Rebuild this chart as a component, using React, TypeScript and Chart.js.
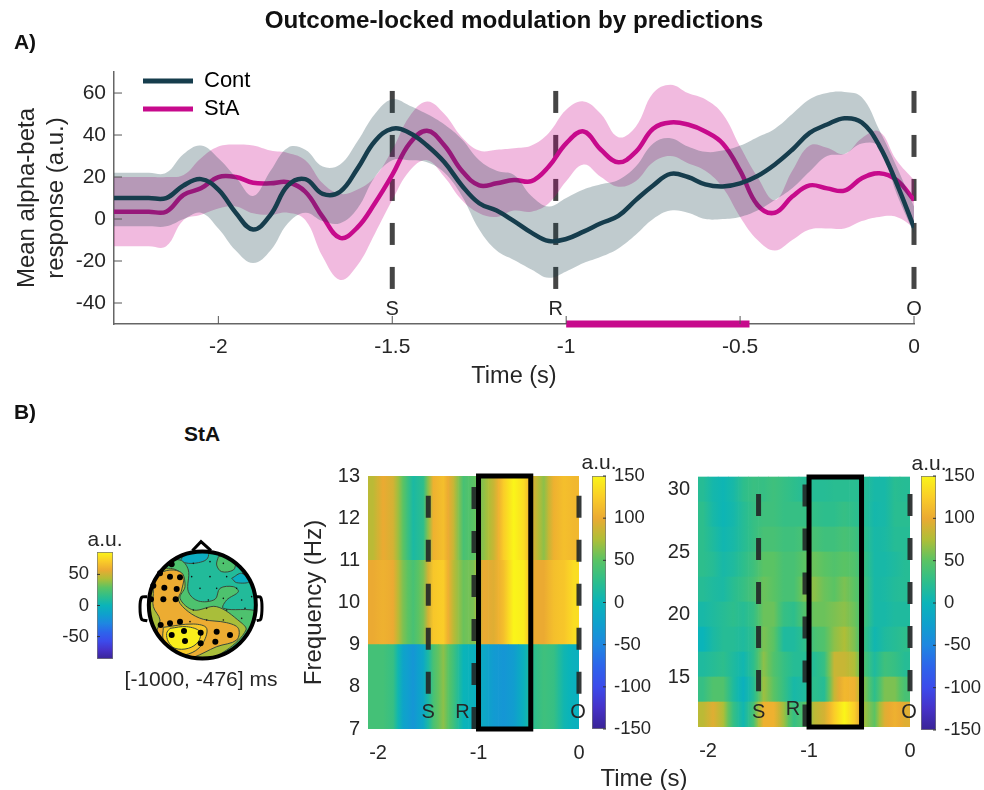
import React, { useEffect, useRef } from "react";
import { Chart, registerables } from "chart.js";

// ---------- Panel A data ----------
const timeA = [-2.3,-2.25,-2.2,-2.15,-2.1,-2.05,-2,-1.95,-1.9,-1.85,-1.8,-1.75,-1.7,-1.65,-1.6,-1.55,-1.5,-1.45,-1.4,-1.35,-1.3,-1.25,-1.2,-1.15,-1.1,-1.05,-1,-0.95,-0.9,-0.85,-0.8,-0.75,-0.7,-0.65,-0.6,-0.55,-0.5,-0.45,-0.4,-0.35,-0.3,-0.25,-0.2,-0.15,-0.1,-0.05,0];
const contMean = [10,10,10,10,16,19,14,3,-5,2,16,19,12,13,24,37,43,41,35,27,16,7.5,4,-1,-6.5,-10.5,-9.5,-6,-2,1.5,9,16,21.5,20,16.5,15.5,17,20.5,26,33,41,45,48,46,35,17,-4];
const contUpper = [22,22,22,22,31,35,29,20,11,23,34,33,25,26,37,50,57,54,50,45,38,28,23,21,11,6,10,14,16.5,18.6,25,36,38.5,34.5,32,32.6,35,39,43,50,57,60,60.5,58,42.5,25,6];
const contLower = [-3.5,-3.5,-3.5,-3.5,0,3,-4.5,-15,-21,-15,-2,3,-1,-2,5,20,28,28,27,22,11,-5,-15,-19.5,-24,-28,-25,-21,-18,-14,-7.5,0,4,3,0,0,1,4,9,14.6,22.6,30,31,36,34.5,12,-7];
const staMean = [3.5,3.5,3.5,3.5,11.5,14.6,20,20,17.3,17,17.5,13,1,-9,-4,7.5,21,36,42,35,23,16,17,18.6,18,25,36,41.7,33,27,32,43,46,45,41.7,36,23,6.7,3,10.7,16,14.6,13.5,19.4,21.8,18.6,9];
const staUpper = [20,20,20,20,21,29,34.5,35.5,35,32.6,31.5,28,17,12,14,20,33,49,56,50,39,32.6,33,33.7,35,41,52,56,50,39,44,60,64,60,57,50,34.5,20,9,23,35,34,31,38.5,41.7,28,18.6];
const staLower = [-13,-13,-13,-13,-0.5,2,5,6,2.7,2,3,-0.5,-18,-29,-22,-7,9,23,28,20,9,2.7,1,4,3.5,7.5,18,26,20,15.4,18,27,30,26.6,23,15,1,-10,-15,-10,-5,-4.5,-4.5,-1,1,1,-4];
const xTicksA = [-2,-1.5,-1,-0.5,0];
const yTicksA = [-40,-20,0,20,40,60];
const eventNames = ["S","R","O"];
const eventTimesA = [-1.5,-1.03,0];
const eventSpanA = [61,-34];
const significantSpan = [-1,-0.473];

// ---------- Panel B data ----------
const heatTimes = [-2.05,-1.95,-1.85,-1.75,-1.65,-1.55,-1.45,-1.35,-1.25,-1.15,-1.05,-0.95,-0.85,-0.75,-0.65,-0.55,-0.45,-0.35,-0.25,-0.15,-0.05];
const lowFreqEdges = [7,9,11,13];
const low7to9 =   [38,38,30,-20,-35,-15,40,65,35,0,-5,-15,-30,-35,-28,-5,25,35,30,5,-5];
const low9to11 =  [100,105,100,60,40,60,120,125,80,55,60,100,95,115,150,145,100,100,115,120,135];
const low11to13 = [80,100,90,50,12,25,105,115,85,40,50,65,85,125,150,135,90,65,105,115,110];
const highFreqEdges = [11,13,15,17,19,21,23,25,27,29,31];
const high11 = [80,95,75,30,5,40,105,105,70,30,45,80,90,125,150,125,70,50,95,105,95];
const high13 = [30,45,45,15,-5,20,70,50,30,10,15,25,20,85,110,105,60,25,60,60,40];
const high15 = [15,20,25,15,5,25,65,45,30,20,20,20,30,85,85,75,40,15,35,30,20];
const high17 = [0,12,20,20,15,25,60,50,15,15,25,40,45,65,75,60,30,5,15,20,25];
const high19 = [10,15,20,25,20,30,55,55,30,25,45,55,55,60,65,55,35,10,10,15,15];
const high21 = [20,15,12,22,30,40,55,50,40,40,60,65,55,50,60,50,35,10,12,18,20];
const high23 = [25,20,10,15,25,35,50,50,40,40,50,55,50,45,50,45,30,10,10,15,20];
const high25 = [25,15,5,10,20,30,40,40,35,35,40,40,35,35,40,35,25,10,12,20,20];
const high27 = [25,10,2,8,20,30,35,35,30,30,30,28,25,25,30,25,20,8,10,22,22];
const high29 = [20,8,3,10,25,32,30,35,30,25,20,20,20,22,22,22,20,10,10,22,20];
const heatXTicks = [-2,-1,0];
const lowYTicks = [7,8,9,10,11,12,13];
const highYTicks = [15,20,25,30];
const cbTicks = [-150,-100,-50,0,50,100,150];
const topoCbTicks = [-50,0,50];
const windowSpan = [-1,-0.48];

// Scalp map, in the map's own layout units (head centre 427, 255; radius 165)
const headCentre = [{ x: 427, y: 255 }];
const topoBackground = 10;
const topoLevels = [-6, 25, -4, 25, 42, 58, 70, 84];
const topoContours = [
  [[360,125],[375,102],[420,90],[445,100],[440,118],[415,128],[385,130]],
  [[475,110],[500,105],[525,130],[520,150],[485,155],[470,135]],
  [[515,175],[545,160],[568,185],[530,188]],
  [[300,130],[360,120],[385,150],[385,215],[415,243],[465,238],[480,205],[520,200],[535,215],[500,240],[490,265],[595,275],[610,320],[560,420],[420,450],[290,430],[235,330],[245,200]],
  [[265,170],[320,145],[365,160],[375,200],[360,235],[400,270],[470,260],[540,305],[558,330],[500,390],[420,425],[340,425],[280,375],[250,300]],
  [[280,190],[300,160],[340,150],[370,165],[365,210],[355,240],[385,275],[430,298],[500,308],[535,325],[530,360],[470,380],[400,412],[350,420],[310,400],[290,340],[300,300],[280,260],[280,220]],
  [[310,322],[400,312],[440,325],[425,375],[385,402],[340,400],[310,360]],
  [[330,325],[380,320],[420,335],[415,365],[385,385],[345,385],[325,365],[320,340]],
];
const sigSensors = [[335,133],[300,160],[330,170],[360,172],[280,197],[313,203],[350,207],[273,238],[310,238],[347,238],[302,315],[330,310],[360,305],[372,333],[335,345],[375,363],[422,338],[422,370],[470,335],[510,345],[466,365]];
const otherSensors = [[395,170],[450,170],[500,170],[550,160],[420,205],[470,205],[530,205],[445,240],[490,235],[545,240],[575,230],[400,270],[440,265],[500,270],[555,265],[390,305],[440,300],[490,300],[545,295],[400,130],[450,125],[490,130]];
const noseLine = [[397,92],[423,65],[453,92]];
const leftEar = [[262,230],[245,232],[240,262],[245,298],[262,302]];
const rightEar = [[590,230],[602,232],[606,262],[602,298],[590,302]];

// ---------- helpers ----------
const colourStops: [number, number[]][] = [
  [-150,[58,36,150]],[-125,[70,50,200]],[-100,[60,75,235]],[-75,[45,100,235]],[-50,[30,135,225]],[-25,[15,160,205]],
  [0,[10,180,185]],[25,[45,190,140]],[50,[90,195,100]],[75,[175,190,55]],[100,[235,170,50]],[125,[250,205,40]],[150,[250,245,25]],
];
function colourAt(v: number) {
  const c = Math.max(-150, Math.min(150, v));
  for (let i = 0; i < colourStops.length - 1; i++) {
    const [a, ca] = colourStops[i];
    const [b, cb] = colourStops[i + 1];
    if (c <= b) {
      const t = (c - a) / (b - a);
      return `rgb(${ca.map((q, k) => Math.round(q + (cb[k] - q) * t)).join(",")})`;
    }
  }
  return "rgb(250,245,25)";
}
const FONT = "'Liberation Sans', Arial, sans-serif";
const INK = "#262626";
const toPts = (arr: number[][]) => arr.map(([x, y]) => ({ x, y }));
const fixedTicks = (vals: number[]) => (s: any) => { s.ticks = vals.map((value) => ({ value })); };
const plainLabel = (v: any) => String(v);
const noMargins = (s: any) => { s.paddingLeft = 0; s.paddingRight = 0; s.paddingTop = 0; s.paddingBottom = 0; };

const headClip = {
  id: "headClip",
  beforeDatasetDraw(chart: any, args: any) {
    if (!chart.data.datasets[args.index].headClip) return;
    const c = chart.ctx;
    const cx = chart.scales.x.getPixelForValue(headCentre[0].x);
    const cy = chart.scales.y.getPixelForValue(headCentre[0].y);
    c.save();
    c.beginPath();
    c.arc(cx, cy, 54, 0, Math.PI * 2);
    c.clip();
  },
  afterDatasetDraw(chart: any, args: any) {
    if (chart.data.datasets[args.index].headClip) chart.ctx.restore();
  },
};
Chart.register(headClip, ...registerables);
Chart.defaults.font.family = FONT;

const innerTicks = {
  id: "innerTicks",
  afterDraw(chart: any, _a: any, opts: any) {
    const c = chart.ctx;
    c.save();
    c.strokeStyle = opts.color || "#555";
    c.lineWidth = 1;
    for (const s of Object.values(chart.scales) as any[]) {
      if (!s.options.display) continue;
      for (const t of s.ticks) {
        const p = s.getPixelForValue(t.value);
        c.beginPath();
        if (s.isHorizontal()) {
          c.moveTo(p, s.top);
          c.lineTo(p, s.top - opts.len);
        } else if (s.position === "left") {
          c.moveTo(s.right, p);
          c.lineTo(s.right + opts.len, p);
        } else {
          c.moveTo(s.left, p);
          c.lineTo(s.left - opts.len, p);
        }
        c.stroke();
      }
    }
    c.restore();
  },
};

const eventText = {
  id: "eventText",
  afterDraw(chart: any, _a: any, opts: any) {
    const c = chart.ctx;
    c.save();
    c.fillStyle = opts.color || INK;
    c.font = `${opts.size}px ${FONT}`;
    c.textAlign = "center";
    c.textBaseline = "middle";
    opts.names.forEach((n: string, i: number) => {
      c.fillText(n, chart.scales.x.getPixelForValue(opts.xs[i]), chart.scales.y.getPixelForValue(opts.ys[i]));
    });
    c.restore();
  },
};

const placeLegend = {
  id: "placeLegend",
  afterLayout(chart: any) {
    chart.legend.left = 137;
    chart.legend.top = 64;
  },
};

function band(upper: number[], lower: number[], rgba: string, order: number) {
  return [
    { data: timeA.map((x, i) => ({ x, y: upper[i] })), fill: "+1", backgroundColor: rgba, borderWidth: 0, pointRadius: 0, tension: 0.4, order },
    { data: timeA.map((x, i) => ({ x, y: lower[i] })), fill: false, borderWidth: 0, pointRadius: 0, tension: 0.4, order },
  ];
}

function chartA(canvas: HTMLCanvasElement) {
  const dashes = eventTimesA.map((x) => ({
    data: [{ x, y: eventSpanA[0] }, { x, y: eventSpanA[1] }],
    borderColor: "#454545", borderWidth: 5, borderDash: [22, 22], pointRadius: 0, clip: false, order: 10,
  }));
  return new Chart(canvas, {
    type: "line",
    data: {
      datasets: [
        ...dashes,
        ...band(staUpper, staLower, "rgba(205,0,135,0.27)", 9),
        { label: "StA", data: timeA.map((x, i) => ({ x, y: staMean[i] })), borderColor: "#C70A8C", backgroundColor: "#C70A8C", borderWidth: 4.5, pointRadius: 0, tension: 0.4, order: 8 },
        ...band(contUpper, contLower, "rgba(22,61,74,0.27)", 7),
        { label: "Cont", data: timeA.map((x, i) => ({ x, y: contMean[i] })), borderColor: "#163D4D", backgroundColor: "#163D4D", borderWidth: 4.5, pointRadius: 0, tension: 0.4, order: 6 },
        { data: significantSpan.map((x) => ({ x, y: -50 })), borderColor: "#C70A8C", borderWidth: 7, pointRadius: 0, clip: false, order: 5 },
      ] as any,
    },
    plugins: [innerTicks, eventText, placeLegend],
    options: {
      animation: false, responsive: false,
      layout: { padding: { right: 70 }, autoPadding: false },
      plugins: {
        tooltip: { enabled: false },
        title: { display: true, text: "Outcome-locked modulation by predictions", color: "#111", fullSize: false, font: { size: 24.2, weight: "bold" }, padding: { top: 6.5, bottom: 36.5 } },
        legend: {
          position: "chartArea",
          align: "start",
          labels: {
            boxWidth: 50, boxHeight: 5, padding: 6, color: INK, font: { size: 22 },
            generateLabels: (ch: any) => ["Cont", "StA"].map((text) => {
              const ds = ch.data.datasets.find((d: any) => d.label === text);
              return { text, fillStyle: ds.borderColor, strokeStyle: ds.borderColor, lineWidth: 0, hidden: false };
            }),
          },
        },
        innerTicks: { len: 8 },
        eventText: { names: eventNames, xs: eventTimesA, ys: [-43, -43, -43], size: 20 },
      } as any,
      scales: {
        x: {
          type: "linear", min: -2.3, max: 0, afterBuildTicks: fixedTicks(xTicksA), afterFit: (s: any) => { s.height = 71; noMargins(s); },
          grid: { display: false, drawTicks: false }, border: { display: true, color: "#666", width: 1.5 },
          ticks: { callback: plainLabel, color: INK, font: { size: 21 }, padding: 11, maxRotation: 0, autoSkip: false },
          title: { display: true, text: "Time (s)", color: INK, font: { size: 23.5 }, padding: { top: 0, bottom: 4 } },
        },
        y: {
          min: -50, max: 70, afterBuildTicks: fixedTicks(yTicksA), afterFit: (s: any) => { s.width = 114; noMargins(s); },
          grid: { display: false, drawTicks: false }, border: { display: true, color: "#666", width: 1.5 },
          ticks: { callback: plainLabel, color: INK, font: { size: 21 }, padding: 8, autoSkip: false },
          title: { display: true, text: ["Mean alpha-beta", "response (a.u.)"], color: INK, font: { size: 24 }, padding: { top: 13, bottom: 0 } },
        },
      },
    } as any,
  });
}

function heatChart(canvas: HTMLCanvasElement, cfg: any) {
  const rowSets = cfg.rows.map((vals: number[], r: number) => ({
    type: "bar",
    grouped: false,
    barPercentage: 1,
    categoryPercentage: 1,
    order: 5,
    data: heatTimes.map((x) => ({ x, y: [cfg.edges[r], cfg.edges[r + 1]] })),
    backgroundColor: (ctx: any) => {
      const i = ctx.dataIndex;
      const ch = ctx.chart;
      if (i == null || !ch.chartArea) return colourAt(vals[0]);
      const xs = ch.scales.x;
      const half = (xs.getPixelForValue(heatTimes[1]) - xs.getPixelForValue(heatTimes[0])) / 2;
      const c = xs.getPixelForValue(heatTimes[i]);
      const g = ch.ctx.createLinearGradient(c - half, 0, c + half, 0);
      g.addColorStop(0, colourAt((vals[Math.max(0, i - 1)] + vals[i]) / 2));
      g.addColorStop(0.5, colourAt(vals[i]));
      g.addColorStop(1, colourAt((vals[Math.min(vals.length - 1, i + 1)] + vals[i]) / 2));
      return g;
    },
  }));
  const dashes = cfg.dashes.map((d: number[]) => ({
    type: "line", data: [{ x: d[0], y: d[1] }, { x: d[0], y: d[2] }],
    borderColor: "rgba(35,40,40,0.92)", borderWidth: 5, borderDash: [22, 22], pointRadius: 0, clip: false, order: 3,
  }));
  const [wa, wb] = windowSpan;
  const lo = cfg.edges[0];
  const hi = cfg.edges[cfg.edges.length - 1];
  const frame = {
    type: "line", data: [{ x: wa, y: lo }, { x: wb, y: lo }, { x: wb, y: hi }, { x: wa, y: hi }, { x: wa, y: lo }],
    borderColor: "#000", borderWidth: 5, pointRadius: 0, clip: false, order: 1, borderJoinStyle: "miter", borderCapStyle: "square",
  };
  return new Chart(canvas, {
    type: "bar",
    data: { datasets: [...rowSets, ...dashes, frame] as any },
    plugins: [eventText],
    options: {
      animation: false, responsive: false,
      layout: { padding: { top: 16, right: cfg.padRight }, autoPadding: false },
      plugins: {
        legend: { display: false }, tooltip: { enabled: false },
        eventText: { names: eventNames, xs: cfg.labelX, ys: cfg.labelY, size: 20 },
      } as any,
      scales: {
        x: {
          type: "linear", offset: false, min: -2.1, max: 0, afterBuildTicks: fixedTicks(heatXTicks), afterFit: (s: any) => { s.height = cfg.bottom; noMargins(s); },
          grid: { display: false, drawTicks: false }, border: { display: false },
          ticks: { callback: plainLabel, color: INK, font: { size: 20 }, padding: 12, maxRotation: 0, autoSkip: false },
        },
        y: {
          min: cfg.yMin, max: cfg.yMax, afterBuildTicks: fixedTicks(cfg.yTicks), afterFit: (s: any) => { s.width = cfg.yWidth; noMargins(s); },
          grid: { display: false, drawTicks: false }, border: { display: false },
          ticks: { callback: plainLabel, color: INK, font: { size: 20 }, padding: 8, autoSkip: false },
          title: cfg.yTitle ? { display: true, text: cfg.yTitle, color: INK, font: { size: 24 }, padding: { top: 10, bottom: 0 } } : { display: false },
        },
      },
    } as any,
  });
}

function colourBar(canvas: HTMLCanvasElement, cfg: any) {
  return new Chart(canvas, {
    type: "bar",
    data: {
      labels: ["a.u."],
      datasets: [{
        data: [[cfg.min, cfg.max]],
        barPercentage: 1, categoryPercentage: 1, borderWidth: 1, borderColor: "#777", borderSkipped: false,
        backgroundColor: (ctx: any) => {
          const ch = ctx.chart;
          if (!ch.chartArea) return colourAt(0);
          const y = ch.scales.y;
          const top = y.getPixelForValue(cfg.max);
          const bot = y.getPixelForValue(cfg.min);
          const g = ch.ctx.createLinearGradient(0, bot, 0, top);
          colourStops.forEach(([v, _c]) => g.addColorStop((v + 150) / 300, colourAt(v)));
          return g;
        },
      }] as any,
    },
    plugins: [innerTicks],
    options: {
      animation: false, responsive: false,
      layout: { padding: cfg.padding, autoPadding: false },
      plugins: { legend: { display: false }, tooltip: { enabled: false }, innerTicks: { len: 3, color: "#333" } } as any,
      scales: {
        x: { display: false },
        y: {
          position: cfg.side, min: cfg.min, max: cfg.max, afterBuildTicks: fixedTicks(cfg.ticks), afterFit: (s: any) => { s.width = cfg.axisWidth; noMargins(s); },
          grid: { display: false, drawTicks: false }, border: { display: false },
          ticks: { callback: plainLabel, color: INK, font: { size: 18.5 }, padding: cfg.tickPad, autoSkip: false },
        },
      },
    } as any,
  });
}

function topoChart(canvas: HTMLCanvasElement) {
  const area = { type: "scatter", showLine: true, pointRadius: 0 };
  const regions = topoContours.map((shape, i) => ({
    ...area, headClip: true, tension: 0.35, data: toPts([...shape, shape[0]]), fill: "shape",
    backgroundColor: colourAt((topoLevels[i] * 150) / 86), borderColor: "#3a4a3a", borderWidth: 1, order: 20 - i,
  }));
  return new Chart(canvas, {
    type: "scatter",
    data: {
      datasets: [
        { data: headCentre, pointRadius: 54, pointBackgroundColor: colourAt((topoBackground * 150) / 86), pointBorderWidth: 0, clip: false, order: 30 },
        ...regions,
        { ...area, data: toPts(noseLine), borderColor: "#000", borderWidth: 3, tension: 0, clip: false, order: 6 },
        { ...area, data: toPts(leftEar), borderColor: "#000", borderWidth: 3, tension: 0.3, clip: false, order: 6 },
        { ...area, data: toPts(rightEar), borderColor: "#000", borderWidth: 3, tension: 0.3, clip: false, order: 6 },
        { data: headCentre, pointRadius: 53.5, pointBackgroundColor: "rgba(0,0,0,0)", pointBorderColor: "#000", pointBorderWidth: 4, clip: false, order: 5 },
        { data: toPts(otherSensors), pointRadius: 0.8, pointBackgroundColor: "#111", pointBorderWidth: 0, order: 4 },
        { data: toPts(sigSensors), pointRadius: 3, pointBackgroundColor: "#000", pointBorderWidth: 0, order: 3 },
      ] as any,
    },
    options: {
      animation: false, responsive: false,
      layout: { autoPadding: false },
      plugins: { legend: { display: false }, tooltip: { enabled: false } },
      scales: {
        x: { display: false, min: 210, max: 645 },
        y: { display: false, min: 30, max: 465, reverse: true },
      },
    } as any,
  });
}

const canvasBoxes = [
  { left: 0, top: 0, width: 984, height: 395 },
  { left: 130, top: 530, width: 145, height: 145 },
  { left: 55, top: 545, width: 65, height: 125 },
  { left: 290, top: 460, width: 300, height: 330 },
  { left: 585, top: 466, width: 80, height: 275 },
  { left: 640, top: 460, width: 280, height: 330 },
  { left: 914, top: 466, width: 70, height: 276 },
];
const textItems = [
  { text: "A)", x: 25, y: 41, size: 21, bold: true },
  { text: "B)", x: 25, y: 411, size: 21, bold: true },
  { text: "StA", x: 202, y: 433, size: 21, bold: true },
  { text: "a.u.", x: 105, y: 538, size: 21 },
  { text: "[-1000, -476] ms", x: 201, y: 678, size: 21 },
  { text: "a.u.", x: 599, y: 461, size: 21 },
  { text: "a.u.", x: 929, y: 462, size: 21 },
  { text: "Time (s)", x: 644, y: 778, size: 24 },
];

export default function App() {
  const refs = useRef<(HTMLCanvasElement | null)[]>([]);
  useEffect(() => {
    const c = refs.current as HTMLCanvasElement[];
    const charts = [
      chartA(c[0]),
      topoChart(c[1]),
      colourBar(c[2], { min: -86, max: 86, side: "left", ticks: topoCbTicks, axisWidth: 42, tickPad: 8, padding: { top: 7, bottom: 11, right: 7 } }),
      heatChart(c[3], {
        rows: [low7to9, low9to11, low11to13], edges: lowFreqEdges, yMin: 7, yMax: 13, yTicks: lowYTicks, yTitle: "Frequency (Hz)",
        yWidth: 78, bottom: 61, padRight: 11,
        dashes: [[-1.5, 12.53, 7.8], [-1.045, 12.74, 7], [0, 12.53, 7.8]],
        labelX: [-1.5, -1.16, -0.01], labelY: [7.38, 7.38, 7.38],
      }),
      colourBar(c[4], { min: -150, max: 150, side: "right", ticks: cbTicks, axisWidth: 59, tickPad: 8, padding: { top: 10, bottom: 12, left: 7 } }),
      heatChart(c[5], {
        rows: [high11, high13, high15, high17, high19, high21, high23, high25, high27, high29], edges: highFreqEdges, yMin: 11, yMax: 31.08, yTicks: highYTicks,
        yWidth: 58, bottom: 63, padRight: 10,
        dashes: [[-1.5, 29.65, 13.87], [-1.04, 30.4, 11], [0, 29.65, 13.87]],
        labelX: [-1.5, -1.16, -0.01], labelY: [12.2, 12.4, 12.2],
      }),
      colourBar(c[6], { min: -150, max: 150, side: "right", ticks: cbTicks, axisWidth: 48, tickPad: 8, padding: { top: 10, bottom: 12, left: 7 } }),
    ];
    return () => charts.forEach((ch) => ch.destroy());
  }, []);
  return (
    <div style={{ position: "absolute", left: 0, top: 0, width: 984, height: 790, background: "#fff", overflow: "hidden" }}>
      {canvasBoxes.map((b, i) => (
        <canvas key={i} ref={(el) => { refs.current[i] = el; }} width={b.width} height={b.height}
          style={{ position: "absolute", left: b.left, top: b.top, width: b.width, height: b.height }} />
      ))}
      {textItems.map((t, i) => (
        <div key={i} style={{
          position: "absolute", left: t.x, top: t.y, transform: "translate(-50%,-50%)", whiteSpace: "nowrap",
          fontFamily: FONT, fontSize: t.size, fontWeight: t.bold ? 700 : 400, color: t.bold ? "#111" : INK, lineHeight: 1,
        }}>{t.text}</div>
      ))}
    </div>
  );
}
